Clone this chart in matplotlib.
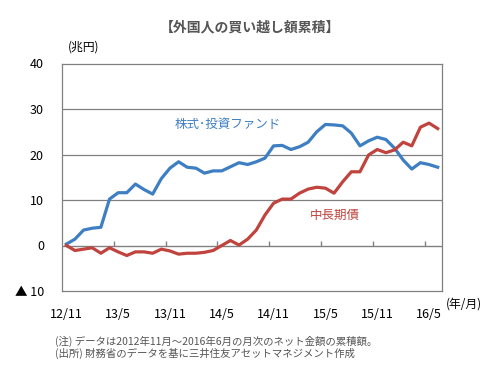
import matplotlib
matplotlib.use("Agg")
import matplotlib.pyplot as plt
import numpy as np

plt.rcParams['font.family'] = ['Noto Sans CJK JP', 'DejaVu Sans']

# monthly cumulative net purchases, 2012/11 - 2016/6 (trillion yen)
stocks = [0.3, 1.4, 3.4, 3.8, 4.0, 10.2, 11.6, 11.6, 13.5, 12.3, 11.3, 14.7,
          17.0, 18.4, 17.2, 17.0, 15.9, 16.4, 16.4, 17.3, 18.2, 17.8, 18.4, 19.2,
          21.9, 22.0, 21.1, 21.7, 22.7, 25.0, 26.6, 26.5, 26.3, 24.7, 21.9, 23.0,
          23.8, 23.3, 21.4, 18.8, 16.8, 18.2, 17.8, 17.2]
bonds = [0.0, -1.1, -0.8, -0.5, -1.7, -0.5, -1.4, -2.2, -1.4, -1.4, -1.7, -0.8,
         -1.2, -1.9, -1.7, -1.7, -1.5, -1.1, 0.0, 1.1, 0.1, 1.4, 3.4, 6.7,
         9.3, 10.2, 10.2, 11.5, 12.4, 12.8, 12.6, 11.5, 14.0, 16.2, 16.2, 19.9,
         21.1, 20.4, 21.0, 22.7, 21.9, 26.0, 26.9, 25.7]
xlabels = ['12/11', '13/5', '13/11', '14/5', '14/11', '15/5', '15/11', '16/5']
yticks = [-10, 0, 10, 20, 30, 40]
ylabels = ['▲ 10', '0', '10', '20', '30', '40']

blue = '#3E7EC3'
red = '#C0433E'
gray = '#808080'

fig = plt.figure(figsize=(4.91, 3.74), dpi=100)
ax = fig.add_axes([62/491, 1 - 291/374, 380/491, (291 - 63.5)/374])

x = np.arange(len(stocks))
ax.plot(x, stocks, color=blue, lw=2.3, zorder=3)
ax.plot(x, bonds, color=red, lw=2.3, zorder=3)

ax.set_xlim(-0.5, len(stocks) - 0.5)
ax.set_ylim(-10, 40)

for v in [10, 20, 30]:
    ax.axhline(v, color=gray, lw=0.9, zorder=1)
ax.axhline(0, color=gray, lw=1.0, zorder=1)
# category tick marks on the zero line
bounds = np.arange(5.5, len(stocks) - 1, 6)
ax.vlines(bounds, 0, 0.9, color=gray, lw=1.0, zorder=1)

for s in ax.spines.values():
    s.set_color(gray)
    s.set_linewidth(0.9)

ax.set_yticks(yticks)
ax.set_yticklabels(ylabels, fontsize=9)
ax.set_xticks(np.arange(0, len(stocks), 6))
ax.set_xticklabels(xlabels, fontsize=9)
ax.tick_params(axis='both', length=0)
ax.tick_params(axis='y', pad=13)
ax.tick_params(axis='x', pad=12)

fig.text(250/491, 1 - 27/374, '【外国人の買い越し額累積】', ha='center', va='center',
         fontsize=10, fontweight='bold', color='#555555')
fig.text(68/491, 1 - 47/374, '(兆円)', ha='left', va='center', fontsize=8.5)
fig.text(446/491, 1 - 304/374, '(年/月)', ha='left', va='center', fontsize=8.5)

fig.text(175/491, 1 - 124/374, '株式･投資ファンド', ha='left', va='center',
         fontsize=9, color=blue)
fig.text(310/491, 1 - 215/374, '中長期債', ha='left', va='center',
         fontsize=9, color=red)

fig.text(55/491, 1 - 341/374, '(注) データは2012年11月～2016年6月の月次のネット金額の累積額。',
         ha='left', va='center', fontsize=7.5, color='#555555')
fig.text(55/491, 1 - 353/374, '(出所) 財務省のデータを基に三井住友アセットマネジメント作成',
         ha='left', va='center', fontsize=7.5, color='#555555')

fig.savefig('out.png', dpi=100)
